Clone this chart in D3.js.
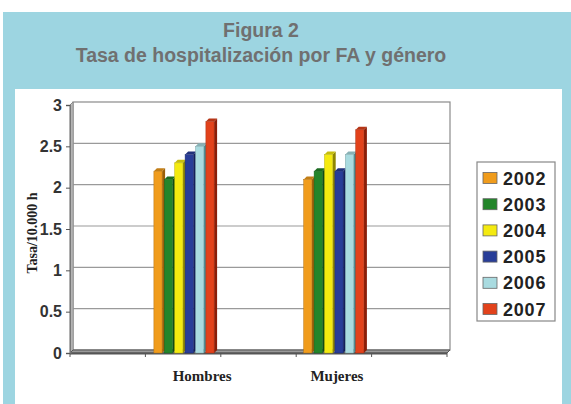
<!DOCTYPE html>
<html><head><meta charset="utf-8">
<script src="https://cdn.jsdelivr.net/npm/d3@7"></script>
<style>body{margin:0;background:#fff}svg{display:block}</style>
</head><body>
<svg id="c" width="571" height="404"></svg>
<script>
const categories = ["Hombres", "Mujeres"];
const slots = ["s0", "Hombres", "s2", "Mujeres", "s4"];
const years = ["2002", "2003", "2004", "2005", "2006", "2007"];
const hombres = [2.2, 2.1, 2.3, 2.4, 2.5, 2.8];
const mujeres = [2.1, 2.2, 2.4, 2.2, 2.4, 2.7];
const yTicks = [0, 0.5, 1, 1.5, 2, 2.5, 3];
const colors = ["#f09c1c", "#23852a", "#f4ea10", "#283d98", "#a9dbe0", "#e2421b"];
const sideColors = ["#9a5f0a", "#104d14", "#8f8600", "#141f5a", "#4f9096", "#8a1e08"];

const svg = d3.select("#c");
svg.append("rect").attr("x",3).attr("y",12).attr("width",568).attr("height",392).attr("fill","#9dd5e1");
svg.append("rect").attr("x",15).attr("y",89).attr("width",547).attr("height",315).attr("fill","#fff");

svg.append("text").attr("x",261).attr("y",37).attr("text-anchor","middle")
  .attr("font-family","Liberation Sans, Arial, sans-serif").attr("font-weight","bold")
  .attr("font-size",19.5).attr("fill","#707070").text("Figura 2");
svg.append("text").attr("x",261).attr("y",62).attr("text-anchor","middle")
  .attr("font-family","Liberation Sans, Arial, sans-serif").attr("font-weight","bold")
  .attr("font-size",19.5).attr("fill","#707070").text("Tasa de hospitalización por FA y género");

const x0 = 70, x1 = 447, yTop = 105, yBot = 353;
const dx = 3, dy = 3;
const x = d3.scaleBand().domain(slots).range([x0, x1]);
const y = d3.scaleLinear().domain([0, 3]).range([yBot, yTop]);

// back wall and gridlines
const g = svg.append("g");
g.append("rect").attr("x",x0+dx).attr("y",yTop-dy).attr("width",x1-x0).attr("height",yBot-yTop)
  .attr("fill","#fff").attr("stroke","#8a8a8a").attr("stroke-width",1.2);
g.selectAll(".grid").data(yTicks.slice(1,-1)).join("line")
  .attr("x1",x0+dx).attr("x2",x1+dx).attr("y1",d=>y(d)-dy).attr("y2",d=>y(d)-dy)
  .attr("stroke","#9a9a9a").attr("stroke-width",1.2);
g.append("path").attr("d",`M${x0},${yTop} L${x0+dx},${yTop-dy} L${x0+dx},${yBot-dy} L${x0},${yBot} Z`)
  .attr("fill","#c8c8c8").attr("stroke","#8a8a8a").attr("stroke-width",1);
g.append("path").attr("d",`M${x0},${yBot} L${x0+dx},${yBot-dy} L${x1+dx},${yBot-dy} L${x1},${yBot} Z`)
  .attr("fill","#9a9a9a").attr("stroke","#555").attr("stroke-width",1);
g.append("line").attr("x1",x0).attr("x2",x1).attr("y1",yBot+0.5).attr("y2",yBot+0.5).attr("stroke","#555").attr("stroke-width",2);

// y axis
const yAxis = d3.axisLeft(y).tickValues(yTicks).tickSize(4).tickFormat(d=>String(d));
const ya = svg.append("g").attr("transform",`translate(${x0},0)`).call(yAxis);
ya.select(".domain").attr("stroke","#777").attr("stroke-width",1.5);
ya.selectAll(".tick line").attr("stroke","#555");
ya.selectAll(".tick text").attr("font-family","Liberation Sans, Arial, sans-serif").attr("font-weight","bold")
  .attr("font-size",16).attr("fill","#333").attr("dx",-1);

// x axis ticks
const xa = svg.append("g").attr("transform",`translate(0,${yBot})`);
xa.selectAll("line").data(slots.map(s=>x(s)).concat([x1])).join("line")
  .attr("x1",d=>d).attr("x2",d=>d).attr("y1",0).attr("y2",4).attr("stroke","#555");

const labelShift = {Hombres: 19, Mujeres: 3};
xa.selectAll("text").data(categories).join("text")
  .attr("x",d=>x(d)+x.bandwidth()/2+labelShift[d]).attr("y",28).attr("text-anchor","middle")
  .attr("font-family","Liberation Serif, Times New Roman, serif").attr("font-weight","bold")
  .attr("font-size",15).attr("fill","#222").text(d=>d);

// y title
svg.append("text").attr("transform","translate(37,233) rotate(-90)").attr("text-anchor","middle")
  .attr("font-family","Liberation Serif, Times New Roman, serif").attr("font-weight","bold")
  .attr("font-size",14).attr("fill","#222").text("Tasa/10.000 h");

// bars
const series = {Hombres: hombres, Mujeres: mujeres};
const groupOff = {Hombres: 8.5, Mujeres: 7.5};
const bw = 10.4, front = 8.2;
categories.forEach(cat => {
  const gx = x(cat) + groupOff[cat];
  const bars = svg.append("g");
  series[cat].forEach((v, i) => {
    const bx = gx + i * bw;
    const top = y(v);
    bars.append("path").attr("d",`M${bx+front},${top} L${bx+front+dx},${top-dy} L${bx+front+dx},${yBot-dy} L${bx+front},${yBot} Z`)
      .attr("fill",sideColors[i]);
    bars.append("path").attr("d",`M${bx},${top} L${bx+dx},${top-dy} L${bx+front+dx},${top-dy} L${bx+front},${top} Z`)
      .attr("fill",d3.color(colors[i]).darker(0.6));
    bars.append("rect").attr("x",bx).attr("y",top).attr("width",front).attr("height",yBot-top)
      .attr("fill",colors[i]).attr("stroke",d3.color(colors[i]).darker(0.8)).attr("stroke-width",0.5);
  });
});

// legend
const lg = svg.append("g");
lg.append("rect").attr("x",477).attr("y",162).attr("width",78).attr("height",159)
  .attr("fill","#fff").attr("stroke","#888").attr("stroke-width",1.2);
years.forEach((yr, i) => {
  const cy = 178 + i * 26.2;
  lg.append("rect").attr("x",483).attr("y",cy-5.5).attr("width",14).attr("height",11)
    .attr("fill",colors[i]).attr("stroke","#666").attr("stroke-width",0.8);
  lg.append("text").attr("x",503).attr("y",cy+6.5).attr("font-family","Liberation Sans, Arial, sans-serif")
    .attr("font-weight","bold").attr("font-size",18).attr("letter-spacing",0.8).attr("fill","#222").text(yr);
});
</script>
</body></html>
